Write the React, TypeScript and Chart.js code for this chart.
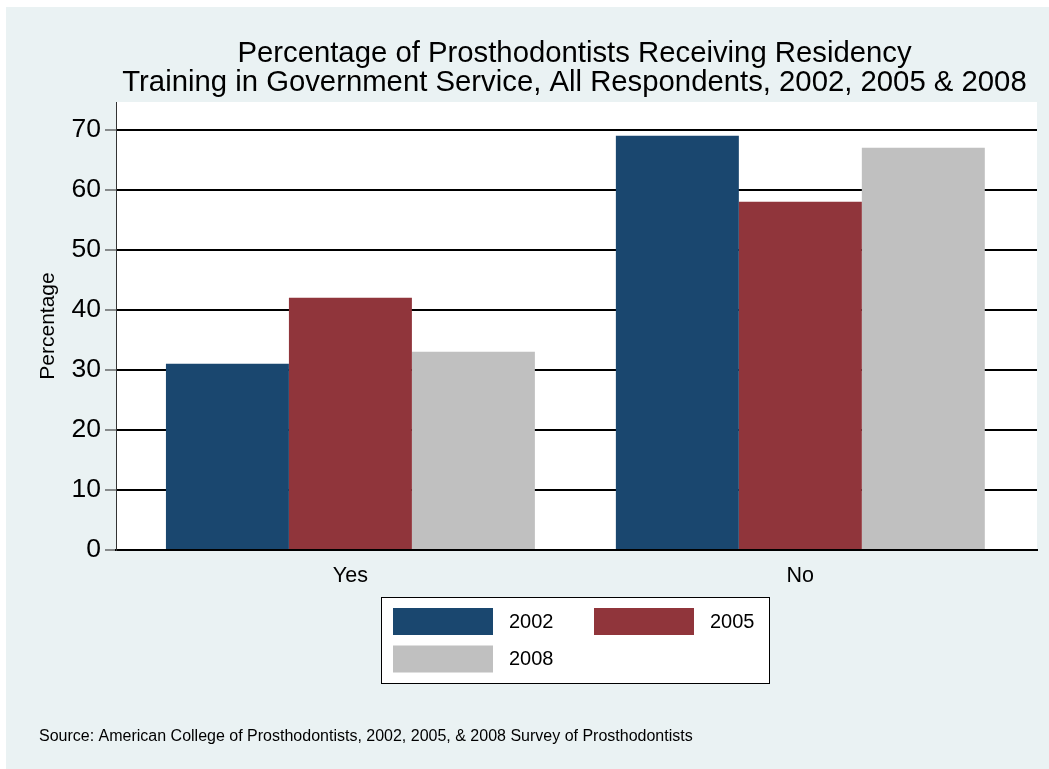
import React, { useEffect, useRef } from "react";
import { Chart, registerables } from "chart.js";

Chart.register(...registerables);

const categories = ["Yes", "No"];
const seriesNames = ["2002", "2005", "2008"];
const values2002 = [31, 69];
const values2005 = [42, 58];
const values2008 = [33, 67];
const seriesColors = ["#1A476F", "#90353B", "#C0C0C0"];
const yTicks = [0, 10, 20, 30, 40, 50, 60, 70];
const titleLines = [
  "Percentage of Prosthodontists Receiving Residency",
  "Training in Government Service, All Respondents, 2002, 2005 & 2008",
];
const yTitle = "Percentage";
const sourceNote =
  "Source: American College of Prosthodontists, 2002, 2005, & 2008 Survey of Prosthodontists";

const FONT = "'Liberation Sans', Arial, Helvetica, sans-serif";
const BG = "#EAF2F3";

const decorPlugin = {
  id: "decor",
  beforeDraw(chart: any) {
    const { ctx, width, height, chartArea } = chart;
    ctx.save();
    ctx.fillStyle = "#FFFFFF";
    ctx.fillRect(0, 0, width, height);
    ctx.fillStyle = BG;
    ctx.fillRect(6, 7, width - 6, height - 7);
    ctx.fillStyle = "#FFFFFF";
    ctx.fillRect(chartArea.left, chartArea.top, chartArea.right - chartArea.left, chartArea.bottom - chartArea.top);
    ctx.restore();
  },
  afterDraw(chart: any) {
    const { ctx } = chart;
    ctx.save();
    // title
    ctx.fillStyle = "#000";
    ctx.textAlign = "center";
    ctx.textBaseline = "alphabetic";
    ctx.font = `29.3px ${FONT}`;
    const cx = 574.5;
    ctx.fillText(titleLines[0], cx, 62);
    ctx.fillText(titleLines[1], cx, 91);

    // legend
    const lx = 381.5, ly = 597.5, lw = 388, lh = 86;
    ctx.fillStyle = "#FFFFFF";
    ctx.fillRect(lx, ly, lw, lh);
    ctx.strokeStyle = "#000";
    ctx.lineWidth = 1;
    ctx.strokeRect(lx, ly, lw, lh);
    const slots = [
      { x: 393, y: 608 },
      { x: 594, y: 608 },
      { x: 393, y: 645.5 },
    ];
    ctx.font = `20px ${FONT}`;
    ctx.textAlign = "left";
    ctx.textBaseline = "middle";
    seriesNames.forEach((name, i) => {
      const s = slots[i];
      ctx.fillStyle = seriesColors[i];
      ctx.fillRect(s.x, s.y, 100, 27);
      ctx.fillStyle = "#000";
      ctx.fillText(name, s.x + 116, s.y + 14);
    });

    // source note
    ctx.font = `16px ${FONT}`;
    ctx.textAlign = "left";
    ctx.textBaseline = "alphabetic";
    ctx.fillText(sourceNote, 39, 741);
    ctx.restore();
  },
};

export default function App() {
  const canvasRef = useRef<HTMLCanvasElement | null>(null);

  useEffect(() => {
    const canvas = canvasRef.current;
    if (!canvas) return;
    const allSeries = [values2002, values2005, values2008];
    const chart = new Chart(canvas, {
      type: "bar",
      data: {
        datasets: allSeries.map((vals, i) => ({
          label: seriesNames[i],
          data: vals.map((v, j) => ({ x: j, y: v })),
          backgroundColor: seriesColors[i],
          borderWidth: 0,
          barPercentage: 1,
          categoryPercentage: 0.82,
        })),
      },
      options: {
        responsive: false,
        animation: false,
        devicePixelRatio: 1,
        layout: { padding: { left: 30, right: 12, top: 102, bottom: 179 } },
        plugins: {
          legend: { display: false },
          title: { display: false },
          tooltip: { enabled: false },
        },
        scales: {
          x: {
            type: "linear",
            offset: false,
            min: -0.521,
            max: 1.526,
            afterBuildTicks: (scale: any) => {
              scale.ticks = categories.map((_, i) => ({ value: i }));
            },
            afterFit: (scale: any) => {
              scale.height = 40;
            },
            grid: { display: false },
            border: { display: true, color: "#000", width: 2 },
            ticks: {
              callback: (v: any) => categories[v as number] ?? "",
              font: { family: FONT, size: 21.5 },
              color: "#000",
              padding: 5,
              maxRotation: 0,
            },
          },
          y: {
            min: 0,
            max: 74.6,
            afterBuildTicks: (scale: any) => {
              scale.ticks = yTicks.map((v) => ({ value: v }));
            },
            afterFit: (scale: any) => {
              scale.width = 86;
            },
            grid: {
              color: "#000",
              lineWidth: 2,
              tickLength: 11,
              tickColor: "#222",
              tickWidth: 1,
            },
            border: { display: true, color: "#333", width: 1 },
            ticks: {
              font: { family: FONT, size: 26.5 },
              color: "#000",
              padding: 4,
            },
            title: {
              display: true,
              text: yTitle,
              font: { family: FONT, size: 21 },
              color: "#000",
              padding: { top: 6, bottom: 0 },
            },
          },
        },
      },
      plugins: [decorPlugin],
    });
    return () => chart.destroy();
  }, []);

  return (
    <div style={{ position: "absolute", left: 0, top: 0, width: 1049, height: 769 }}>
      <canvas ref={canvasRef} width={1049} height={769} style={{ display: "block" }} />
    </div>
  );
}
